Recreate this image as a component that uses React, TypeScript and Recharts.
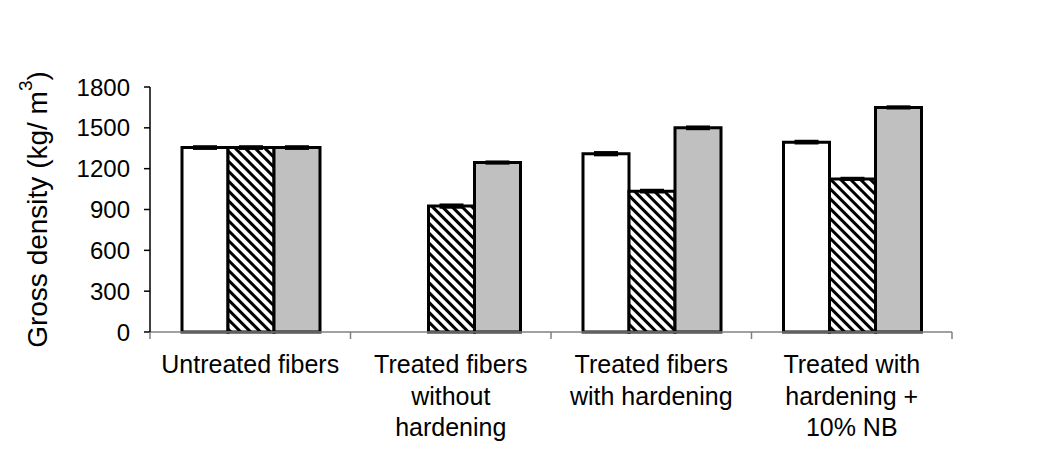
import React from 'react';
import { BarChart, Bar, XAxis, YAxis, ErrorBar } from 'recharts';

const categories = [
  'Untreated fibers',
  'Treated fibers\nwithout\nhardening',
  'Treated fibers\nwith hardening',
  'Treated with\nhardening +\n10% NB',
];
const seriesA = [1355, null, 1310, 1395];
const seriesB = [1355, 925, 1035, 1125];
const seriesC = [1355, 1245, 1500, 1650];
const errorsA = [10, null, 12, 10];
const errorsB = [10, 12, 10, 8];
const errorsC = [10, 8, 10, 8];
const yTicks = [0, 300, 600, 900, 1200, 1500, 1800];

const data = categories.map((name, i) => ({
  name,
  a: seriesA[i],
  b: seriesB[i],
  c: seriesC[i],
  ea: errorsA[i],
  eb: errorsB[i],
  ec: errorsC[i],
}));

const FONT = '"Liberation Sans", Arial, sans-serif';

// category label, plus the boundary tick marks excel puts between groups
const CategoryTick = (props: any) => {
  const { x, y, payload, index } = props;
  const half = payload.offset ?? 100;
  const lines = String(payload.value).split('\n');
  const last = index === categories.length - 1;
  return (
    <g>
      <line x1={x - half} y1={y - 8} x2={x - half} y2={y - 1} stroke="#808080" strokeWidth={1.5} />
      {last && <line x1={x + half} y1={y - 8} x2={x + half} y2={y - 1} stroke="#808080" strokeWidth={1.5} />}
      <text x={x} y={y + 33} textAnchor="middle" fontFamily={FONT} fontSize={25} fill="#000">
        {lines.map((ln, i) => (
          <tspan key={i} x={x} dy={i === 0 ? 0 : 31.5}>
            {ln}
          </tspan>
        ))}
      </text>
    </g>
  );
};

// y title, and the figure frame (only its top and left edges are in view)
const YLabel = (props: any) => {
  const { x, y, height } = props.viewBox;
  const cx = x + 17;
  const cy = y + height / 2;
  return (
    <g>
      <path d="M7 470 V5 H1040" stroke="#000" strokeWidth={2} fill="none" />
      <text
        x={cx}
        y={cy}
        transform={`rotate(-90 ${cx} ${cy})`}
        textAnchor="middle"
        dominantBaseline="central"
        fontFamily={FONT}
        fontSize={28}
        fill="#000"
      >
        Gross density (kg/ m
        <tspan dy={-12} fontSize={19}>3</tspan>
        <tspan dy={12}>)</tspan>
      </text>
    </g>
  );
};

export default function App() {
  return (
    <div style={{ margin: -8, width: 1038, height: 468, background: '#fff' }}>
      <BarChart
        width={1038}
        height={468}
        data={data}
        margin={{ top: 87, right: 86, left: 20, bottom: 6 }}
        barCategoryGap={32}
        barGap={0}
      >
        <defs>
          <pattern id="hatch" patternUnits="userSpaceOnUse" width={7} height={7} patternTransform="rotate(45)">
            <rect width={7} height={7} fill="#fff" />
            <rect width={7} height={3} fill="#000" />
          </pattern>
        </defs>
        <XAxis
          dataKey="name"
          height={130}
          interval={0}
          axisLine={{ stroke: '#808080', strokeWidth: 1.5 }}
          tickLine={false}
          tick={<CategoryTick />}
        />
        <YAxis
          width={130}
          domain={[0, 1800]}
          ticks={yTicks}
          interval={0}
          tickSize={6}
          tickMargin={14}
          axisLine={{ stroke: '#000', strokeWidth: 1.5 }}
          tickLine={{ stroke: '#000', strokeWidth: 1.5 }}
          tick={{ fill: '#000', fontFamily: FONT, fontSize: 24 }}
          label={<YLabel />}
        />
        <Bar dataKey="a" fill="#fff" stroke="#000" strokeWidth={3} isAnimationActive={false}>
          <ErrorBar dataKey="ea" width={12} stroke="#000" strokeWidth={2} direction="y" />
        </Bar>
        <Bar dataKey="b" fill="url(#hatch)" stroke="#000" strokeWidth={3} isAnimationActive={false}>
          <ErrorBar dataKey="eb" width={12} stroke="#000" strokeWidth={2} direction="y" />
        </Bar>
        <Bar dataKey="c" fill="#C0C0C0" stroke="#000" strokeWidth={3} isAnimationActive={false}>
          <ErrorBar dataKey="ec" width={12} stroke="#000" strokeWidth={2} direction="y" />
        </Bar>
      </BarChart>
    </div>
  );
}
